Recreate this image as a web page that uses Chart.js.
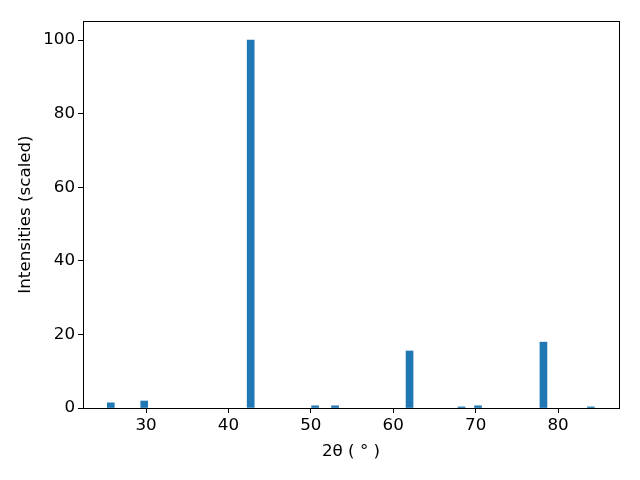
<!DOCTYPE html>
<html>
<head>
<meta charset="utf-8">
<script src="https://cdn.jsdelivr.net/npm/chart.js@4/dist/chart.umd.min.js"></script>
<style>
html,body{margin:0;padding:0;background:#fff;}
#wrap{width:640px;height:480px;}
</style>
</head>
<body>
<div id="wrap"><canvas id="c" width="640" height="480"></canvas></div>
<script>
const twoTheta = [25.72, 29.78, 42.70, 50.52, 52.94, 61.98, 68.29, 70.29, 78.23, 83.99];
const intensities = [1.4, 1.9, 100, 0.6, 0.6, 15.5, 0.3, 0.6, 17.9, 0.3];
const xTicks = [30, 40, 50, 60, 70, 80];
const yTicks = [0, 20, 40, 60, 80, 100];

const frame = {
  id: 'frame',
  afterDatasetsDraw(chart) {
    const a = chart.chartArea, ctx = chart.ctx;
    ctx.save();
    ctx.strokeStyle = '#000';
    ctx.lineWidth = 1;
    ctx.strokeRect(Math.round(a.left) + 0.5, Math.round(a.top) + 0.5,
                   Math.round(a.right - a.left), Math.round(a.bottom - a.top));
    ctx.restore();
  }
};

new Chart(document.getElementById('c'), {
  type: 'bar',
  data: {
    datasets: [{
      data: twoTheta.map((x, i) => ({x: x, y: intensities[i]})),
      backgroundColor: '#1f77b4',
      borderWidth: 0,
      barThickness: 7
    }]
  },
  options: {
    responsive: false,
    animation: false,
    devicePixelRatio: 1,
    layout: {padding: {top: 21, right: 21, left: 0, bottom: 0}},
    plugins: {legend: {display: false}, tooltip: {enabled: false}},
    scales: {
      x: {
        type: 'linear',
        min: 22.35,
        max: 87.4,
        offset: false,
        afterBuildTicks: s => { s.ticks = xTicks.map(v => ({value: v})); },
        afterFit: s => { s.height = 72; },
        grid: {offset: false, drawOnChartArea: false, drawTicks: true, tickLength: 5, color: '#000'},
        border: {display: true, color: '#000'},
        ticks: {color: '#000', font: {family: 'DejaVu Sans', size: 16.7}, padding: 3, maxRotation: 0},
        title: {display: true, text: '2θ ( ° )', color: '#000', font: {family: 'DejaVu Sans', size: 16.7}, padding: {top: 2, bottom: 18}}
      },
      y: {
        min: 0,
        max: 105.2,
        afterBuildTicks: s => { s.ticks = yTicks.map(v => ({value: v})); },
        afterFit: s => { s.width = 83; },
        grid: {drawOnChartArea: false, drawTicks: true, tickLength: 5, color: '#000'},
        border: {display: true, color: '#000'},
        ticks: {color: '#000', font: {family: 'DejaVu Sans', size: 16.7}, padding: 3},
        title: {display: true, text: 'Intensities (scaled)', color: '#000', font: {family: 'DejaVu Sans', size: 16.7}, padding: {top: 16, bottom: 6}}
      }
    }
  },
  plugins: [frame]
});
</script>
</body>
</html>
